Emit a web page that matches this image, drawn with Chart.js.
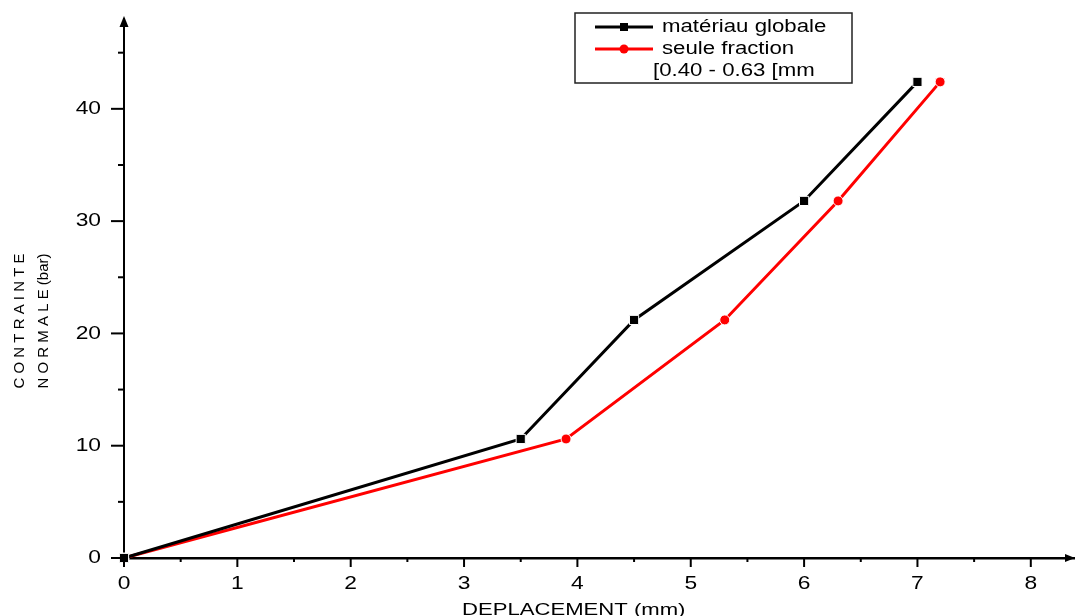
<!DOCTYPE html>
<html>
<head>
<meta charset="utf-8">
<script src="https://cdn.jsdelivr.net/npm/chart.js@4/dist/chart.umd.min.js"></script>
<style>
html,body{margin:0;padding:0;background:#fff;}
#wrap{width:1075px;height:616px;position:relative;}
</style>
</head>
<body>
<div id="wrap"><canvas id="c"></canvas></div>
<script>
'use strict';
// data
const X_GLOBAL=[0,3.5,4.5,6,7];
const Y_GLOBAL=[0,10.6,21.2,31.8,42.4];
const X_FRACTION=[0,3.9,5.3,6.3,7.2];
const Y_FRACTION=[0,10.6,21.2,31.8,42.4];
const SERIES_LABELS=['matériau globale','seule fraction\n[0.40 - 0.63 [mm'];
const X_TITLE='DEPLACEMENT (mm)';
const Y_TITLE=['C O N T R A I N T E','N O R M A L E (bar)'];

const FONT='"Liberation Sans", Arial, sans-serif';
const BLACK='#000',RED='#ff0000';
const pts=(xs,ys)=>xs.map((x,i)=>({x,y:ys[i]}));

// text in the source is a bit wider than Arial, stretch it horizontally
function wideText(ctx,txt,x,y,sx){
  ctx.save();ctx.translate(x,y);ctx.scale(sx,1);ctx.fillText(txt,0,0);ctx.restore();
}

// axis ticks (major/minor), labels, arrows, titles, legend box
const decor={
  id:'decor',
  afterDraw(chart){
    const {ctx,chartArea:a,scales:{x,y}}=chart;
    ctx.save();
    ctx.strokeStyle=BLACK;ctx.fillStyle=BLACK;ctx.lineWidth=2;
    ctx.font='19px '+FONT;
    x.ticks.forEach(t=>{
      const px=x.getPixelForValue(t.value),major=Number.isInteger(t.value);
      ctx.beginPath();ctx.moveTo(px,a.bottom);ctx.lineTo(px,a.bottom+(major?9:4));ctx.stroke();
      if(major){ctx.textAlign='center';ctx.textBaseline='middle';wideText(ctx,String(t.value),px,a.bottom+26,1.2);}
    });
    y.ticks.forEach(t=>{
      const py=y.getPixelForValue(t.value),major=t.value%10===0;
      ctx.beginPath();ctx.moveTo(a.left,py);ctx.lineTo(a.left-(major?13:6),py);ctx.stroke();
      if(major){ctx.textAlign='right';ctx.textBaseline='middle';wideText(ctx,String(t.value),a.left-23,py,1.2);}
    });
    // arrows
    ctx.beginPath();ctx.moveTo(a.left,a.top-3);ctx.lineTo(a.left-4.5,a.top+8);ctx.lineTo(a.left+4.5,a.top+8);ctx.closePath();ctx.fill();
    ctx.beginPath();ctx.moveTo(a.right,a.bottom);ctx.lineTo(a.right-10,a.bottom-4);ctx.lineTo(a.right-10,a.bottom+4);ctx.closePath();ctx.fill();
    // axis titles
    ctx.font='17px '+FONT;ctx.textAlign='left';ctx.textBaseline='alphabetic';
    wideText(ctx,X_TITLE,462,615,1.3);
    ctx.save();
    ctx.translate(0,321);ctx.rotate(-Math.PI/2);
    ctx.font='15px '+FONT;ctx.textAlign='center';ctx.textBaseline='middle';
    ctx.fillText(Y_TITLE[0],0,20);
    ctx.fillText(Y_TITLE[1],0,44);
    ctx.restore();
    // legend
    ctx.lineWidth=1.5;ctx.strokeStyle='#222';
    ctx.strokeRect(575,13,277,70);
    ctx.font='17.5px '+FONT;ctx.textAlign='left';ctx.textBaseline='middle';
    chart.data.datasets.forEach((ds,i)=>{
      const ly=27+i*22;
      ctx.strokeStyle=ds.borderColor;ctx.lineWidth=3;
      ctx.beginPath();ctx.moveTo(595,ly);ctx.lineTo(653,ly);ctx.stroke();
      ctx.fillStyle=ds.borderColor;
      if(ds.pointStyle==='rect'){ctx.fillRect(620,ly-4,8,8);}
      else{ctx.beginPath();ctx.arc(624,ly,4.5,0,Math.PI*2);ctx.fill();}
      ctx.fillStyle=BLACK;
      const lines=ds.label.split('\n');
      wideText(ctx,lines[0],662,ly,1.27);
      if(lines[1])wideText(ctx,lines[1],653,ly+22,1.27);
    });
    ctx.restore();
  }
};

new Chart(document.getElementById('c'),{
  type:'line',
  data:{datasets:[
    {label:SERIES_LABELS[0],data:pts(X_GLOBAL,Y_GLOBAL),borderColor:BLACK,backgroundColor:BLACK,borderWidth:3,
     pointStyle:'rect',pointRadius:6.5,pointBorderColor:'#fff',pointBorderWidth:1,pointBackgroundColor:BLACK,clip:false},
    {label:SERIES_LABELS[1],data:pts(X_FRACTION,Y_FRACTION),borderColor:RED,backgroundColor:RED,borderWidth:3,
     pointStyle:'circle',pointRadius:5,pointBorderColor:'#fff',pointBorderWidth:1,pointBackgroundColor:RED,clip:false}
  ]},
  options:{
    responsive:true,maintainAspectRatio:false,animation:false,
    layout:{autoPadding:false,padding:{top:19,right:0,left:0,bottom:0}},
    plugins:{legend:{display:false},tooltip:{enabled:false}},
    scales:{
      x:{type:'linear',min:0,max:8.39,
        afterFit:s=>{s.height=58;s.paddingLeft=0;s.paddingRight=0;},
        grid:{display:false,drawTicks:false},
        border:{display:true,color:BLACK,width:2.5},
        ticks:{display:false,stepSize:0.5,includeBounds:false,autoSkip:false}},
      y:{type:'linear',min:0,max:48,
        afterFit:s=>{s.width=124;s.paddingTop=0;s.paddingBottom=0;},
        grid:{display:false,drawTicks:false},
        border:{display:true,color:BLACK,width:2},
        ticks:{display:false,stepSize:5,includeBounds:false,autoSkip:false}}
    }
  },
  plugins:[decor]
});
</script>
</body>
</html>
